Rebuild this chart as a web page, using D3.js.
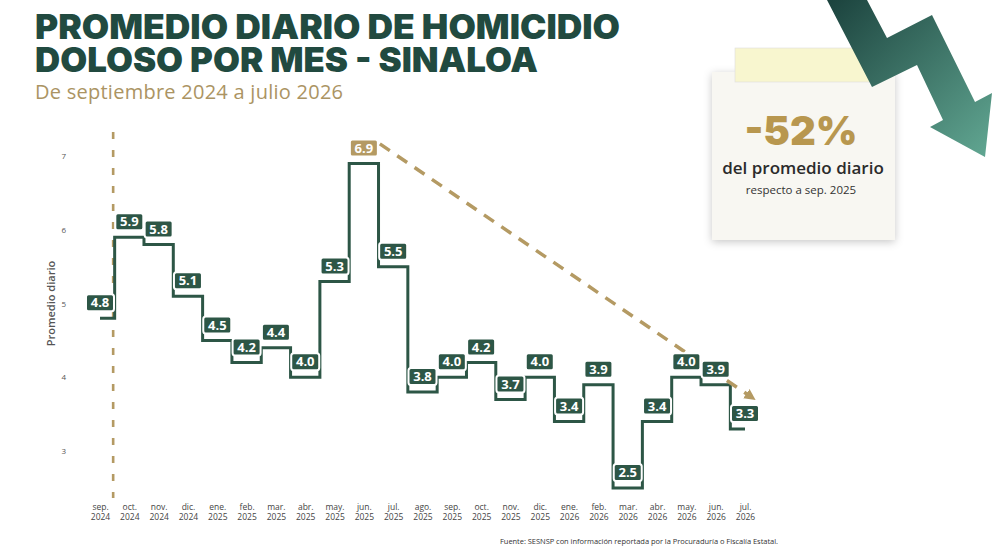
<!DOCTYPE html>
<html>
<head>
<meta charset="utf-8">
<script src="https://cdn.jsdelivr.net/npm/d3@7"></script>
<style>
  body { margin: 0; background: #fff; }
  svg { display: block; }
</style>
</head>
<body>
<svg id="chart"></svg>
<script>
// datos del gráfico
const months = ["sep.", "oct.", "nov.", "dic.", "ene.", "feb.", "mar.", "abr.", "may.", "jun.", "jul.", "ago.",
                "sep.", "oct.", "nov.", "dic.", "ene.", "feb.", "mar.", "abr.", "may.", "jun.", "jul."];
const years = ["2024", "2024", "2024", "2024", "2025", "2025", "2025", "2025", "2025", "2025", "2025", "2025",
               "2025", "2025", "2025", "2025", "2026", "2026", "2026", "2026", "2026", "2026", "2026"];
const values = [4.8, 5.9, 5.8, 5.1, 4.5, 4.2, 4.4, 4.0, 5.3, 6.9, 5.5, 3.8,
                4.0, 4.2, 3.7, 4.0, 3.4, 3.9, 2.5, 3.4, 4.0, 3.9, 3.3];
const yTicks = [3, 4, 5, 6, 7];
const peakIndex = 9;

const W = 1000, H = 556;
const dark = "#2d5646";
const gold = "#b49a63";

const svg = d3.select("#chart")
  .attr("width", W)
  .attr("height", H);

const defs = svg.append("defs");

// gradiente flecha
const grad = defs.append("linearGradient")
  .attr("id", "arrowGrad")
  .attr("x1", "0").attr("y1", "0")
  .attr("x2", "1").attr("y2", "1");
grad.append("stop").attr("offset", "0%").attr("stop-color", "#1b423d");
grad.append("stop").attr("offset", "100%").attr("stop-color", "#62a893");

defs.append("filter")
  .attr("id", "shadow")
  .attr("x", "-20%").attr("y", "-20%")
  .attr("width", "140%").attr("height", "140%")
  .append("feDropShadow")
  .attr("dx", 0).attr("dy", 2)
  .attr("stdDeviation", 4)
  .attr("flood-color", "#000")
  .attr("flood-opacity", 0.22);

defs.append("marker")
  .attr("id", "goldHead")
  .attr("viewBox", "0 0 10 10")
  .attr("refX", 5).attr("refY", 5)
  .attr("markerWidth", 3.2).attr("markerHeight", 3.2)
  .attr("orient", "auto")
  .append("path")
  .attr("d", "M0,0 L10,5 L0,10 z")
  .attr("fill", gold);

// Titulo
svg.append("text")
  .attr("x", 35).attr("y", 39)
  .attr("textLength", 585)
  .attr("lengthAdjust", "spacingAndGlyphs")
  .attr("font-family", "Inter, 'DejaVu Sans', sans-serif")
  .attr("font-weight", 900)
  .attr("font-size", 34)
  .attr("fill", "#214a40")
  .text("PROMEDIO DIARIO DE HOMICIDIO");

svg.append("text")
  .attr("x", 35).attr("y", 72)
  .attr("textLength", 503)
  .attr("lengthAdjust", "spacingAndGlyphs")
  .attr("font-family", "Inter, 'DejaVu Sans', sans-serif")
  .attr("font-weight", 900)
  .attr("font-size", 34)
  .attr("fill", "#214a40")
  .text("DOLOSO POR MES - SINALOA");

svg.append("text")
  .attr("x", 35).attr("y", 99)
  .attr("textLength", 308)
  .attr("font-family", "'Open Sans', sans-serif")
  .attr("font-size", 20)
  .attr("fill", "#ab9463")
  .text("De septiembre 2024 a julio 2026");

// Scale
const x = d3.scalePoint()
  .domain(d3.range(values.length))
  .range([100, 745]);

const y = d3.scaleLinear()
  .domain([3, 7])
  .range([451, 156]);

// Asse Y (solo etichette)
const yAxis = svg.append("g")
  .attr("transform", "translate(66,0)")
  .call(d3.axisLeft(y).tickValues(yTicks).tickSize(0).tickPadding(0).tickFormat(d3.format("d")));
yAxis.select(".domain").remove();
yAxis.selectAll("text")
  .attr("font-family", "'Open Sans', sans-serif")
  .attr("font-size", 8)
  .attr("fill", "#555");

svg.append("text")
  .attr("transform", `translate(55,${(y(4) + y(6)) / 2}) rotate(-90)`)
  .attr("text-anchor", "middle")
  .attr("font-family", "'Open Sans', sans-serif")
  .attr("font-weight", 600)
  .attr("font-size", 11)
  .attr("fill", "#555")
  .text("Promedio diario");

// Asse X: mese + anno
const xAxis = svg.append("g")
  .attr("transform", "translate(0,500)")
  .call(d3.axisBottom(x).tickSize(0).tickPadding(0).tickFormat(() => ""));
xAxis.select(".domain").remove();
xAxis.selectAll(".tick text").remove();
xAxis.selectAll(".tick")
  .append("text")
  .attr("text-anchor", "middle")
  .attr("font-family", "'Open Sans', sans-serif")
  .attr("font-size", 8.5)
  .attr("fill", "#444")
  .call(t => {
    t.append("tspan").attr("x", 0).attr("y", 10).text(d => months[d]);
    t.append("tspan").attr("x", 0).attr("y", 19.5).text(d => years[d]);
  });

// linea verticale tratteggiata (inizio)
const xStart = (x(0) + x(1)) / 2 - 1.5;
svg.append("line")
  .attr("x1", xStart).attr("x2", xStart)
  .attr("y1", 132).attr("y2", 498)
  .attr("stroke", gold)
  .attr("stroke-width", 2.6)
  .attr("stroke-dasharray", "7 11");

// linea a gradini
const stepLine = d3.line()
  .x((d, i) => x(i))
  .y(d => y(d))
  .curve(d3.curveStep);

svg.append("path")
  .datum(values)
  .attr("d", stepLine)
  .attr("fill", "none")
  .attr("stroke", dark)
  .attr("stroke-width", 3);

// tendenza dal picco
const boxW = 28, boxH = 17, gap = 7;
const lastIndex = values.length - 1;
svg.append("line")
  .attr("x1", x(peakIndex) + boxW / 2 + 2)
  .attr("y1", y(values[peakIndex]) - gap - boxH / 2 - 4)
  .attr("x2", x(lastIndex) + 6)
  .attr("y2", y(values[lastIndex]) - gap - boxH - 8)
  .attr("stroke", gold)
  .attr("stroke-width", 3.5)
  .attr("stroke-dasharray", "12 9")
  .attr("marker-end", "url(#goldHead)");

// etichette dei valori
const labels = svg.append("g")
  .selectAll("g")
  .data(values)
  .join("g")
  .attr("transform", (d, i) => `translate(${x(i)},${y(d) - gap - boxH / 2})`);

labels.append("rect")
  .attr("x", -boxW / 2)
  .attr("y", -boxH / 2)
  .attr("width", boxW)
  .attr("height", boxH)
  .attr("rx", 2.5)
  .attr("fill", (d, i) => i === peakIndex ? gold : dark)
  .attr("stroke", "#fff")
  .attr("stroke-width", 2);

labels.append("text")
  .attr("text-anchor", "middle")
  .attr("dy", "0.36em")
  .attr("font-family", "'Open Sans', sans-serif")
  .attr("font-weight", 700)
  .attr("font-size", 13)
  .attr("fill", "#fff")
  .text(d => d.toFixed(1));

// Fonte
svg.append("text")
  .attr("x", 500).attr("y", 544)
  .attr("textLength", 278)
  .attr("font-family", "'Open Sans', sans-serif")
  .attr("font-size", 7.5)
  .attr("fill", "#333")
  .text("Fuente: SESNSP con información reportada por la Procuraduría o Fiscalía Estatal.");

// nota -52%
const note = svg.append("g");
note.append("rect")
  .attr("x", 712).attr("y", 72)
  .attr("width", 183).attr("height", 168)
  .attr("fill", "#f8f7f2")
  .attr("filter", "url(#shadow)");
note.append("rect")
  .attr("x", 735).attr("y", 48)
  .attr("width", 135).attr("height", 34)
  .attr("fill", "#f8f6cf")
  .attr("stroke", "#ddd")
  .attr("stroke-width", 0.6);

note.append("text")
  .attr("x", 801).attr("y", 145)
  .attr("text-anchor", "middle")
  .attr("font-family", "Inter, 'DejaVu Sans', sans-serif")
  .attr("font-weight", 900)
  .attr("font-size", 40)
  .attr("fill", "#b8974f")
  .text("-52%");

note.append("text")
  .attr("x", 803).attr("y", 174)
  .attr("text-anchor", "middle")
  .attr("font-family", "'Open Sans', sans-serif")
  .attr("font-weight", 600)
  .attr("font-size", 17)
  .attr("fill", "#2b2b2b")
  .text("del promedio diario");

note.append("text")
  .attr("x", 801).attr("y", 194)
  .attr("text-anchor", "middle")
  .attr("font-family", "'Open Sans', sans-serif")
  .attr("font-size", 11.5)
  .attr("fill", "#333")
  .text("respecto a sep. 2025");

// freccia in discesa
const arrowPts = [[827, 0], [872, 87], [917, 65], [943, 120], [930, 127], [985, 157],
                  [992, 93], [975, 102], [932, 15], [887, 38], [867, 0]];
svg.append("path")
  .attr("d", d3.line()(arrowPts) + "Z")
  .attr("fill", "url(#arrowGrad)");
</script>
</body>
</html>
